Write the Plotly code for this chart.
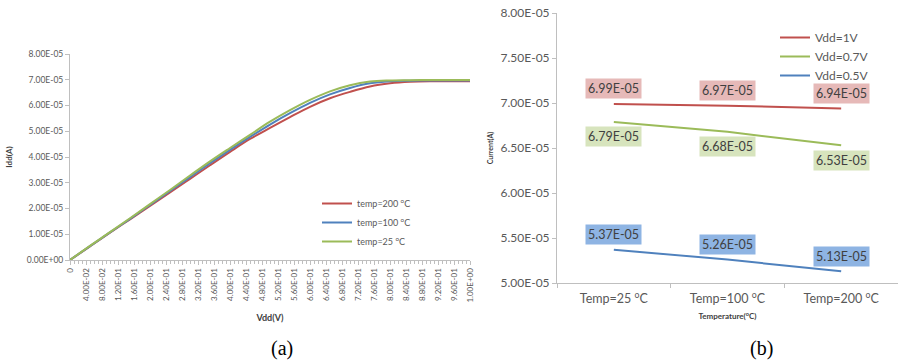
import plotly.graph_objects as go

# ---------------- Data: chart (a) ----------------
vdd = [0.00, 0.05, 0.10, 0.15, 0.20, 0.25, 0.30, 0.35, 0.40, 0.45, 0.50,
       0.55, 0.60, 0.65, 0.70, 0.75, 0.80, 0.85, 0.90, 0.95, 1.00]
idd_200c = [0.0, 0.53e-5, 1.06e-5, 1.58e-5, 2.10e-5, 2.62e-5, 3.15e-5, 3.68e-5, 4.20e-5, 4.70e-5, 5.13e-5,
            5.55e-5, 5.95e-5, 6.28e-5, 6.53e-5, 6.74e-5, 6.86e-5, 6.92e-5, 6.94e-5, 6.94e-5, 6.94e-5]
idd_100c = [0.0, 0.54e-5, 1.07e-5, 1.60e-5, 2.14e-5, 2.68e-5, 3.22e-5, 3.76e-5, 4.28e-5, 4.78e-5, 5.26e-5,
            5.70e-5, 6.10e-5, 6.43e-5, 6.68e-5, 6.86e-5, 6.94e-5, 6.96e-5, 6.97e-5, 6.97e-5, 6.97e-5]
idd_25c = [0.0, 0.55e-5, 1.08e-5, 1.62e-5, 2.17e-5, 2.72e-5, 3.28e-5, 3.83e-5, 4.35e-5, 4.86e-5, 5.37e-5,
           5.82e-5, 6.22e-5, 6.55e-5, 6.79e-5, 6.93e-5, 6.97e-5, 6.98e-5, 6.99e-5, 6.99e-5, 6.99e-5]
a_xticks = [0.00, 0.04, 0.08, 0.12, 0.16, 0.20, 0.24, 0.28, 0.32, 0.36, 0.40, 0.44, 0.48,
            0.52, 0.56, 0.60, 0.64, 0.68, 0.72, 0.76, 0.80, 0.84, 0.88, 0.92, 0.96, 1.00]
a_yticks = [0.0, 1e-5, 2e-5, 3e-5, 4e-5, 5e-5, 6e-5, 7e-5, 8e-5]

# ---------------- Data: chart (b) ----------------
temps = ["Temp=25 <sup>o</sup>C", "Temp=100 <sup>o</sup>C", "Temp=200 <sup>o</sup>C"]
cur_vdd_1v = [6.99e-5, 6.97e-5, 6.94e-5]
cur_vdd_07v = [6.79e-5, 6.68e-5, 6.53e-5]
cur_vdd_05v = [5.37e-5, 5.26e-5, 5.13e-5]
b_yticks = [5.0e-5, 5.5e-5, 6.0e-5, 6.5e-5, 7.0e-5, 7.5e-5, 8.0e-5]

RED, BLUE, GREEN = "#c0504d", "#4f81bd", "#9bbb59"
FONT = "Lato, Open Sans, sans-serif"
TICKC = "#595959"
AXC = "#bfbfbf"
W, H = 900, 362


def px_x(p):
    return p / W


def px_y(p):
    return (H - p) / H


fig = go.Figure()

# chart (a)
for name, ys, col in [("temp=200 <sup>o</sup>C", idd_200c, RED),
                      ("temp=100 <sup>o</sup>C", idd_100c, BLUE),
                      ("temp=25 <sup>o</sup>C", idd_25c, GREEN)]:
    fig.add_trace(go.Scatter(x=vdd, y=ys, mode="lines", name=name, line=dict(color=col, width=2),
                             line_shape="spline", xaxis="x", yaxis="y", legend="legend"))

# chart (b)
for name, ys, col in [("Vdd=1V", cur_vdd_1v, RED),
                      ("Vdd=0.7V", cur_vdd_07v, GREEN),
                      ("Vdd=0.5V", cur_vdd_05v, BLUE)]:
    fig.add_trace(go.Scatter(x=temps, y=ys, mode="lines", name=name, line=dict(color=col, width=2),
                             xaxis="x2", yaxis="y2", legend="legend2"))

# data labels (b)
annots = []
for ys, bg, shift in [(cur_vdd_1v, "#e6b9b8", 15), (cur_vdd_07v, "#d7e4bd", -15),
                      (cur_vdd_05v, "#8eb4e3", 15)]:
    for t, v in zip(temps, ys):
        annots.append(dict(x=t, y=v, xref="x2", yref="y2", text=f"{v:.2E}", showarrow=False,
                           yshift=shift, bgcolor=bg, borderpad=2,
                           font=dict(family=FONT, size=12.5, color="#404040")))

for lbl, xp in [("(a)", 282), ("(b)", 761)]:
    annots.append(dict(x=px_x(xp), y=px_y(348), xref="paper", yref="paper", text=lbl, showarrow=False,
                       xanchor="center", yanchor="middle",
                       font=dict(family="Liberation Serif, Times New Roman, serif", size=20, color="#000")))

common = dict(showline=True, linecolor=AXC, linewidth=1, ticks="outside", ticklen=4, tickcolor=AXC,
              showgrid=False, zeroline=False, automargin=False)

fig.update_layout(
    width=W, height=H,
    margin=dict(l=0, r=0, t=0, b=0, autoexpand=False),
    paper_bgcolor="white", plot_bgcolor="white",
    font=dict(family=FONT, color=TICKC),
    annotations=annots,
    xaxis=dict(domain=[px_x(70), px_x(470)], range=[0, 1], tickvals=a_xticks,
               ticktext=["0"] + [f"{v:.2E}" for v in a_xticks[1:]], tickangle=-90,
               tickfont=dict(size=8, color=TICKC),
               minor=dict(dtick=0.01, ticks="outside", ticklen=3, tickcolor=AXC),
               title=dict(text="<b>Vdd(V)</b>", font=dict(size=9, color="#404040"), standoff=13),
               anchor="y", **common),
    yaxis=dict(domain=[px_y(260), px_y(54)], range=[0, 8e-5], tickvals=a_yticks,
               ticktext=[f"{v:.2E}" for v in a_yticks], tickfont=dict(size=8.5, color=TICKC),
               title=dict(text="<b>Idd(A)</b>", font=dict(size=8, color="#404040"), standoff=12),
               anchor="x", **common),
    xaxis2=dict(domain=[px_x(557), px_x(898)], range=[-0.5, 2.5], type="category",
                tickfont=dict(size=12.5, color=TICKC), tickson="boundaries", ticklabelstandoff=4,
                title=dict(text="<b>Temperature(<sup>o</sup>C)</b>", font=dict(size=8, color="#404040"),
                           standoff=8),
                anchor="y2", **common),
    yaxis2=dict(domain=[px_y(283), px_y(13)], range=[5e-5, 8e-5], tickvals=b_yticks,
                ticktext=[f"{v:.2E}" for v in b_yticks], tickfont=dict(size=12, color=TICKC),
                title=dict(text="<b>Current(A)</b>", font=dict(size=7, color="#404040"), standoff=6),
                anchor="x2", **common),
    legend=dict(x=px_x(317), y=px_y(189), xanchor="left", yanchor="top",
                bgcolor="rgba(0,0,0,0)", font=dict(size=9, color=TICKC), tracegroupgap=0),
    legend2=dict(x=px_x(775), y=px_y(23), xanchor="left", yanchor="top",
                 bgcolor="rgba(0,0,0,0)", font=dict(size=12, color=TICKC), tracegroupgap=0),
)

fig.write_html("out.html", config={"displayModeBar": False},
               post_script="document.body.style.margin='0';document.body.style.overflow='hidden';")
